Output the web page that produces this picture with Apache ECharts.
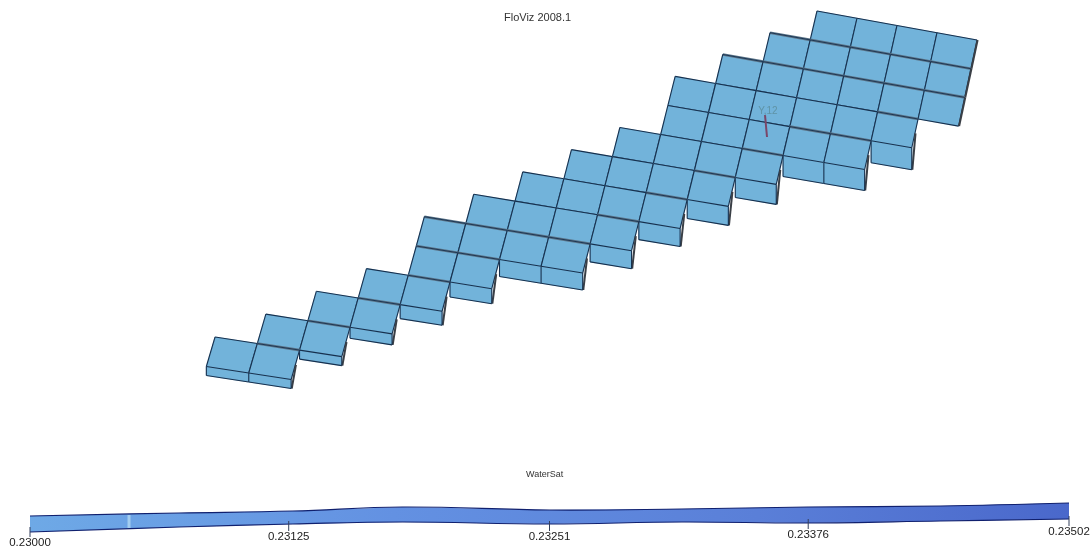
<!DOCTYPE html>
<html>
<head>
<meta charset="utf-8">
<style>
  html, body { margin: 0; background: #fff; }
  #chart { width: 1092px; height: 550px; filter: blur(0.35px); }
</style>
<script src="https://cdn.jsdelivr.net/npm/echarts@6/dist/echarts.min.js"></script>
</head>
<body>
<div id="chart"></div>
<script>
// grid layout, one entry per row of cells
var rowIds = [0, 1, 2, 3, 4, 5, 6, 7, 8, 9, 10, 11, 12, 13, 14];
var rowFirstCol = [0, -1, -2, -3, -3, -4, -5, -6, -7, -8, -8, -9, -10, -11, -12];
var rowCellCount = [4, 5, 6, 6, 5, 4, 4, 4, 4, 4, 2, 2, 2, 2, 2];
var rowFrontDepth = [0, 0, 0, 22, 21, 20, 19, 18, 18, 17, 15, 14, 11, 9, 9];

// legend
var legendTicks = [0.23, 0.23125, 0.23251, 0.23376, 0.23502];
var legendStops = [0.23, 0.23072, 0.23127, 0.2318, 0.23251, 0.23315, 0.23376, 0.2344, 0.23502];

// drawing constants (pixels)
var legendTop = [516, 513, 511, 507, 510, 509, 507, 506, 503];
var legendBottom = [532, 527, 524, 522, 524, 522, 523, 521, 519];
var tickLabelY = [543, 537, 537, 535, 532];
var faceColor = "#72b3da";
var lineColor = "#16304e";

var cellData = [];
rowIds.forEach(function (r, i) {
  for (var k = 0; k < rowCellCount[i]; k++) {
    cellData.push([rowFirstCol[i] + k, r]);
  }
});

function hasCell(c, r) {
  if (r < 0 || r >= rowIds.length) return false;
  return c >= rowFirstCol[r] && c < rowFirstCol[r] + rowCellCount[r];
}

// oblique view of the cell grid, gives axis values
function project(c, r) {
  return [
    817 + 40 * c - 6.79 * r + 0.16 * c * r,
    11 + 7.25 * c + 28.9 * r - 0.05 * c * r,
  ];
}

function renderCell(params, api) {
  var c = api.value(0);
  var r = api.value(1);
  var pt = function (a, b, drop) {
    var p = project(a, b);
    return api.coord([p[0], p[1] + (drop || 0)]);
  };
  var a = pt(c, r);
  var b = pt(c + 1, r);
  var d = pt(c, r + 1);
  var e = pt(c + 1, r + 1);
  var children = [
    {
      type: "polygon",
      shape: { points: [a, b, e, d] },
      style: { fill: faceColor, stroke: faceColor, lineWidth: 0.5 },
    },
  ];
  var drop = rowFrontDepth[r];
  var open = !hasCell(c, r + 1);
  var f = e;
  var g = d;
  if (open && drop > 0) {
    f = pt(c + 1, r + 1, drop);
    g = pt(c, r + 1, drop);
    children.push({
      type: "polygon",
      shape: { points: [d, e, f, g] },
      style: { fill: faceColor, stroke: faceColor, lineWidth: 0.5 },
    });
  }

  function edge(p, q, thick) {
    if (thick) {
      children.push({
        type: "line",
        shape: { x1: p[0], y1: p[1], x2: q[0], y2: q[1] },
        style: { stroke: "#5b7488", lineWidth: 2.6 },
      });
    }
    children.push({
      type: "line",
      shape: { x1: p[0], y1: p[1], x2: q[0], y2: q[1] },
      style: { stroke: lineColor, lineWidth: thick ? 0.9 : 1.1 },
    });
  }
  var heavyRow = r === 1 || r === 2 || r === 9 || r === 10;
  edge(a, b, heavyRow || (open && hasCell(c, r - 1)));
  edge(a, d);
  edge(b, e);
  edge(d, e);
  if (open && drop > 0) {
    edge(g, f);
    edge(d, g);
  }
  // dark side of the block on the right hand end of a row
  if (!hasCell(c + 1, r)) {
    var sideStart = drop > 0 ? [(b[0] + e[0]) / 2, (b[1] + e[1]) / 2] : b;
    children.push({
      type: "line",
      shape: { x1: sideStart[0] + 0.6, y1: sideStart[1], x2: f[0] + 0.6, y2: f[1] },
      style: { stroke: "#3a3f46", lineWidth: 2 },
    });
    edge(e, f);
  }
  return { type: "group", children: children };
}

function renderLegendBar(params, api) {
  var top = legendStops.map(function (v, i) {
    return api.coord([v, legendTop[i]]);
  });
  var bottom = legendStops.map(function (v, i) {
    return api.coord([v, legendBottom[i]]);
  });
  var outline = top.concat(bottom.slice().reverse());
  var streakX = api.coord([0.23072, 0])[0] - 50;
  return {
    type: "group",
    children: [
      {
        type: "polygon",
        shape: { points: outline },
        style: {
          fill: new echarts.graphic.LinearGradient(0, 0, 1, 0, [
            { offset: 0, color: "#6ea9e6" },
            { offset: 0.35, color: "#6391e2" },
            { offset: 0.7, color: "#5a7fd8" },
            { offset: 1, color: "#4a68cb" },
          ]),
        },
      },
      {
        type: "line",
        shape: { x1: streakX, y1: 515, x2: streakX, y2: 529 },
        style: { stroke: "#a3cdf0", lineWidth: 3 },
      },
      {
        type: "polyline",
        shape: { points: top, smooth: 0.4 },
        style: { stroke: "#10206e", lineWidth: 1.2, fill: "none" },
      },
      {
        type: "polyline",
        shape: { points: bottom, smooth: 0.4 },
        style: { stroke: "#10206e", lineWidth: 1.2, fill: "none" },
      },
    ],
  };
}

function renderLegendTick(params, api) {
  var v = api.value(0);
  var i = params.dataIndex;
  var p = api.coord([v, tickLabelY[i]]);
  return {
    type: "group",
    children: [
      {
        type: "line",
        shape: { x1: p[0], y1: p[1] - 16, x2: p[0], y2: p[1] - 6 },
        style: { stroke: "#333f5c", lineWidth: 1 },
      },
      {
        type: "text",
        style: {
          x: p[0],
          y: p[1],
          text: v.toFixed(5),
          align: "center",
          verticalAlign: "middle",
          fill: "#222",
          font: "11.5px 'Liberation Sans'",
        },
      },
    ],
  };
}

var chart = echarts.init(document.getElementById("chart"), null, { renderer: "canvas" });

var option = {
  animation: false,
  backgroundColor: "#fff",
  title: [
    {
      text: "FloViz 2008.1",
      left: 499,
      top: 7,
      textStyle: { fontFamily: "Liberation Sans", fontSize: 11, fontWeight: "normal", color: "#333" },
    },
    {
      text: "WaterSat",
      left: 521,
      top: 465,
      textStyle: { fontFamily: "Liberation Sans", fontSize: 9, fontWeight: "normal", color: "#333" },
    },
  ],
  grid: [
    { left: 0, right: 0, top: 0, bottom: 0 },
    { left: 30, width: 1039, top: 0, bottom: 0 },
  ],
  xAxis: [
    { type: "value", gridIndex: 0, min: 0, max: 1092, show: false },
    { type: "value", gridIndex: 1, min: 0.23, max: 0.23502, show: false },
  ],
  yAxis: [
    { type: "value", gridIndex: 0, min: 0, max: 550, inverse: true, show: false },
    { type: "value", gridIndex: 1, min: 0, max: 550, inverse: true, show: false },
  ],
  series: [
    {
      type: "custom",
      name: "cells",
      xAxisIndex: 0,
      yAxisIndex: 0,
      data: cellData,
      clip: false,
      renderItem: renderCell,
    },
    {
      type: "custom",
      name: "legendBar",
      xAxisIndex: 1,
      yAxisIndex: 1,
      data: [[0.23, 0]],
      clip: false,
      renderItem: renderLegendBar,
    },
    {
      type: "custom",
      name: "legendTicks",
      xAxisIndex: 1,
      yAxisIndex: 1,
      data: legendTicks.map(function (v) {
        return [v, 0];
      }),
      clip: false,
      renderItem: renderLegendTick,
    },
    {
      // triad marker in the middle of the model
      type: "custom",
      name: "marker",
      xAxisIndex: 0,
      yAxisIndex: 0,
      data: [[765, 115]],
      clip: false,
      z: 5,
      renderItem: function (params, api) {
        var p = api.coord([api.value(0), api.value(1)]);
        return {
          type: "group",
          children: [
            {
              type: "line",
              shape: { x1: p[0], y1: p[1], x2: p[0] + 2, y2: p[1] + 22 },
              style: { stroke: "#7b4668", lineWidth: 2 },
            },
            {
              type: "text",
              style: {
                x: p[0] + 3,
                y: p[1] - 4,
                text: "Y,12",
                align: "center",
                verticalAlign: "middle",
                fill: "#5f93a6",
                font: "10px 'Liberation Sans'",
              },
            },
          ],
        };
      },
    },
  ],
};

chart.setOption(option);
</script>
</body>
</html>
